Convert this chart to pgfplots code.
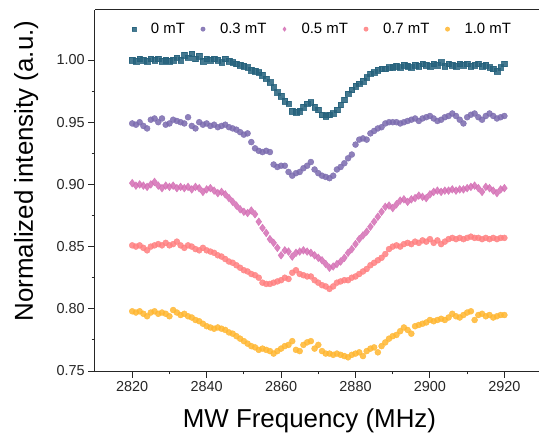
\documentclass[border=0pt]{standalone}
\usepackage{fontspec}
\setmainfont{Liberation Sans}
\usepackage{pgfplots}
\pgfplotsset{compat=1.18}
\usetikzlibrary{calc}

\definecolor{c0}{HTML}{25617C}
\definecolor{c3}{HTML}{7A6AAE}
\definecolor{c5}{HTML}{D46EB4}
\definecolor{c7}{HTML}{FF7F80}
\definecolor{c10}{HTML}{FFB630}

\pgfplotstableread{
f v
2820 1.000
2821 0.999
2822 1.001
2823 1.000
2824 0.999
2825 1.001
2826 1.000
2827 1.001
2828 0.999
2829 1.000
2830 0.999
2831 1.000
2832 1.002
2833 1.000
2834 1.004
2835 1.002
2836 1.005
2837 1.001
2838 1.003
2839 0.999
2840 1.001
2841 1.000
2842 1.001
2843 1.000
2844 0.998
2845 1.001
2846 0.999
2847 0.998
2848 0.997
2849 0.996
2850 0.995
2851 0.994
2852 0.992
2853 0.991
2854 0.990
2855 0.988
2856 0.985
2857 0.982
2858 0.978
2859 0.974
2860 0.971
2861 0.967
2862 0.965
2863 0.959
2864 0.958
2865 0.959
2866 0.962
2867 0.965
2868 0.966
2869 0.962
2870 0.960
2871 0.956
2872 0.955
2873 0.956
2874 0.957
2875 0.960
2876 0.964
2877 0.968
2878 0.973
2879 0.976
2880 0.979
2881 0.981
2882 0.983
2883 0.986
2884 0.989
2885 0.990
2886 0.992
2887 0.993
2888 0.993
2889 0.994
2890 0.994
2891 0.995
2892 0.994
2893 0.996
2894 0.995
2895 0.994
2896 0.996
2897 0.995
2898 0.997
2899 0.996
2900 0.995
2901 0.997
2902 0.996
2903 0.998
2904 0.995
2905 0.997
2906 0.996
2907 0.995
2908 0.997
2909 0.996
2910 0.997
2911 0.995
2912 0.996
2913 0.997
2914 0.995
2915 0.996
2916 0.994
2917 0.993
2918 0.991
2919 0.994
2920 0.997
}\dataA

\pgfplotstableread{
f v
2820 0.949
2821 0.948
2822 0.950
2823 0.947
2824 0.945
2825 0.952
2826 0.953
2827 0.950
2828 0.953
2829 0.948
2830 0.949
2831 0.952
2832 0.951
2833 0.950
2834 0.949
2835 0.954
2836 0.947
2837 0.945
2838 0.950
2839 0.948
2840 0.949
2841 0.947
2842 0.948
2843 0.946
2844 0.947
2845 0.948
2846 0.946
2847 0.945
2848 0.944
2849 0.942
2850 0.940
2851 0.941
2852 0.934
2853 0.929
2854 0.927
2855 0.926
2856 0.927
2857 0.926
2858 0.916
2859 0.914
2860 0.915
2861 0.915
2862 0.910
2863 0.907
2864 0.909
2865 0.910
2866 0.913
2867 0.915
2868 0.918
2869 0.912
2870 0.909
2871 0.907
2872 0.906
2873 0.905
2874 0.907
2875 0.912
2876 0.914
2877 0.917
2878 0.921
2879 0.924
2880 0.932
2881 0.936
2882 0.937
2883 0.936
2884 0.941
2885 0.943
2886 0.945
2887 0.946
2888 0.949
2889 0.950
2890 0.950
2891 0.950
2892 0.949
2893 0.950
2894 0.951
2895 0.952
2896 0.953
2897 0.951
2898 0.953
2899 0.954
2900 0.955
2901 0.953
2902 0.951
2903 0.952
2904 0.954
2905 0.955
2906 0.957
2907 0.955
2908 0.952
2909 0.949
2910 0.954
2911 0.956
2912 0.957
2913 0.954
2914 0.952
2915 0.955
2916 0.957
2917 0.955
2918 0.953
2919 0.954
2920 0.955
}\dataB

\pgfplotstableread{
f v
2820 0.901
2821 0.899
2822 0.900
2823 0.899
2824 0.898
2825 0.900
2826 0.902
2827 0.899
2828 0.897
2829 0.899
2830 0.898
2831 0.899
2832 0.897
2833 0.898
2834 0.897
2835 0.898
2836 0.896
2837 0.898
2838 0.897
2839 0.894
2840 0.896
2841 0.897
2842 0.895
2843 0.893
2844 0.894
2845 0.892
2846 0.889
2847 0.886
2848 0.883
2849 0.880
2850 0.878
2851 0.877
2852 0.879
2853 0.876
2854 0.870
2855 0.865
2856 0.861
2857 0.856
2858 0.853
2859 0.849
2860 0.843
2861 0.847
2862 0.846
2863 0.842
2864 0.845
2865 0.846
2866 0.847
2867 0.846
2868 0.845
2869 0.843
2870 0.841
2871 0.839
2872 0.836
2873 0.833
2874 0.834
2875 0.836
2876 0.838
2877 0.841
2878 0.845
2879 0.848
2880 0.852
2881 0.856
2882 0.859
2883 0.862
2884 0.866
2885 0.870
2886 0.874
2887 0.878
2888 0.882
2889 0.883
2890 0.881
2891 0.884
2892 0.887
2893 0.888
2894 0.886
2895 0.888
2896 0.889
2897 0.891
2898 0.890
2899 0.889
2900 0.892
2901 0.894
2902 0.895
2903 0.894
2904 0.895
2905 0.895
2906 0.896
2907 0.895
2908 0.896
2909 0.896
2910 0.897
2911 0.898
2912 0.899
2913 0.897
2914 0.894
2915 0.898
2916 0.897
2917 0.895
2918 0.893
2919 0.896
2920 0.897
}\dataC

\pgfplotstableread{
f v
2820 0.851
2821 0.850
2822 0.851
2823 0.849
2824 0.847
2825 0.850
2826 0.851
2827 0.852
2828 0.851
2829 0.853
2830 0.851
2831 0.852
2832 0.854
2833 0.851
2834 0.849
2835 0.851
2836 0.850
2837 0.848
2838 0.847
2839 0.849
2840 0.847
2841 0.846
2842 0.845
2843 0.843
2844 0.842
2845 0.840
2846 0.838
2847 0.837
2848 0.835
2849 0.833
2850 0.831
2851 0.830
2852 0.828
2853 0.827
2854 0.825
2855 0.821
2856 0.820
2857 0.820
2858 0.821
2859 0.822
2860 0.823
2861 0.825
2862 0.824
2863 0.829
2864 0.831
2865 0.828
2866 0.827
2867 0.826
2868 0.826
2869 0.823
2870 0.821
2871 0.819
2872 0.818
2873 0.816
2874 0.818
2875 0.821
2876 0.822
2877 0.823
2878 0.823
2879 0.825
2880 0.826
2881 0.828
2882 0.830
2883 0.832
2884 0.835
2885 0.837
2886 0.839
2887 0.841
2888 0.844
2889 0.848
2890 0.850
2891 0.851
2892 0.850
2893 0.852
2894 0.853
2895 0.852
2896 0.854
2897 0.853
2898 0.855
2899 0.854
2900 0.856
2901 0.853
2902 0.855
2903 0.852
2904 0.854
2905 0.856
2906 0.857
2907 0.856
2908 0.857
2909 0.856
2910 0.857
2911 0.858
2912 0.857
2913 0.857
2914 0.856
2915 0.857
2916 0.856
2917 0.857
2918 0.856
2919 0.857
2920 0.857
}\dataD

\pgfplotstableread{
f v
2820 0.798
2821 0.797
2822 0.798
2823 0.796
2824 0.794
2825 0.797
2826 0.798
2827 0.796
2828 0.797
2829 0.796
2830 0.794
2831 0.799
2832 0.797
2833 0.795
2834 0.796
2835 0.794
2836 0.793
2837 0.791
2838 0.790
2839 0.788
2840 0.786
2841 0.785
2842 0.784
2843 0.785
2844 0.784
2845 0.783
2846 0.781
2847 0.780
2848 0.778
2849 0.776
2850 0.774
2851 0.772
2852 0.770
2853 0.769
2854 0.767
2855 0.768
2856 0.767
2857 0.766
2858 0.764
2859 0.766
2860 0.768
2861 0.770
2862 0.771
2863 0.774
2864 0.767
2865 0.766
2866 0.771
2867 0.773
2868 0.774
2869 0.768
2870 0.771
2871 0.766
2872 0.764
2873 0.764
2874 0.763
2875 0.764
2876 0.763
2877 0.762
2878 0.761
2879 0.763
2880 0.764
2881 0.765
2882 0.762
2883 0.766
2884 0.768
2885 0.769
2886 0.765
2887 0.770
2888 0.773
2889 0.776
2890 0.778
2891 0.779
2892 0.782
2893 0.785
2894 0.783
2895 0.780
2896 0.786
2897 0.787
2898 0.788
2899 0.789
2900 0.791
2901 0.790
2902 0.791
2903 0.792
2904 0.791
2905 0.793
2906 0.796
2907 0.794
2908 0.793
2909 0.795
2910 0.797
2911 0.798
2912 0.791
2913 0.795
2914 0.796
2915 0.794
2916 0.795
2917 0.793
2918 0.794
2919 0.795
2920 0.795
}\dataE

\begin{document}
\begin{tikzpicture}
\begin{axis}[
    scale only axis,
    width=444bp, height=361bp,
    xmin=2810, xmax=2929.3,
    ymin=0.75, ymax=1.0402,
    axis x line*=bottom,
    axis y line*=left,
    axis line style={-, line width=1bp, black!85},
    tick align=outside,
    major tick length=6.7bp,
    minor tick length=3.3bp,
    every tick/.style={black!85, line width=1bp},
    xtick={2820,2840,...,2920},
    minor x tick num=1,
    ytick={0.75,0.80,...,1.00},
    minor y tick num=1,
    /pgf/number format/assume math mode=true,
    xticklabel style={/pgf/number format/1000 sep={}},
    yticklabel style={/pgf/number format/.cd, fixed, fixed zerofill, precision=2},
    tick label style={font=\fontsize{14.5}{17}\selectfont, text=black!85},
    xlabel={MW Frequency (MHz)},
    ylabel={Normalized intensity (a.u.)},
    label style={font=\fontsize{26}{30}\selectfont},
    xlabel style={at={(rel axis cs:0.483,0)}, anchor=base, yshift=-56bp},
    ylabel style={at={(rel axis cs:0,0.554)}, anchor=base, yshift=62bp},
    legend columns=5,
    legend image code/.code={
        \path[draw=none, fill=none] (-3bp,-3bp) rectangle (17bp,3bp);
        \draw[#1, mark size=2.2bp] plot coordinates {(0bp,0bp)};
    },
    legend style={draw=none, fill=none,
        at={(rel axis cs:0.509,0.947)}, anchor=center,
        font=\fontsize{15}{18}\selectfont,
        nodes={inner xsep=0bp},
        /tikz/every even column/.append style={column sep=15bp}},
]
\addplot[only marks, mark=square*, mark size=2.8bp,
    mark options={draw=c0, fill=c0, opacity=0.85}] table[x=f, y=v] {\dataA};
\addlegendentry{0 mT}
\addplot[only marks, mark=*, mark size=3bp,
    mark options={draw=c3, fill=c3, opacity=0.85}] table[x=f, y=v] {\dataB};
\addlegendentry{0.3 mT}
\addplot[only marks, mark=diamond*, mark size=3.9bp,
    mark options={draw=c5, fill=c5, opacity=0.85}] table[x=f, y=v] {\dataC};
\addlegendentry{0.5 mT}
\addplot[only marks, mark=*, mark size=3bp,
    mark options={draw=c7, fill=c7, opacity=0.85}] table[x=f, y=v] {\dataD};
\addlegendentry{0.7 mT}
\addplot[only marks, mark=*, mark size=3bp,
    mark options={draw=c10, fill=c10, opacity=0.85}] table[x=f, y=v] {\dataE};
\addlegendentry{1.0 mT}
\coordinate (bl) at (rel axis cs:0,0);
\coordinate (tr) at (rel axis cs:1,1);
\draw[line width=1bp, black!85] (rel axis cs:0,1) -- (rel axis cs:1,1);
\end{axis}
\pgfresetboundingbox
\path[use as bounding box] ($(bl)+(-95bp,-64bp)$) rectangle ($(tr)+(0bp,10bp)$);
\end{tikzpicture}
\end{document}
